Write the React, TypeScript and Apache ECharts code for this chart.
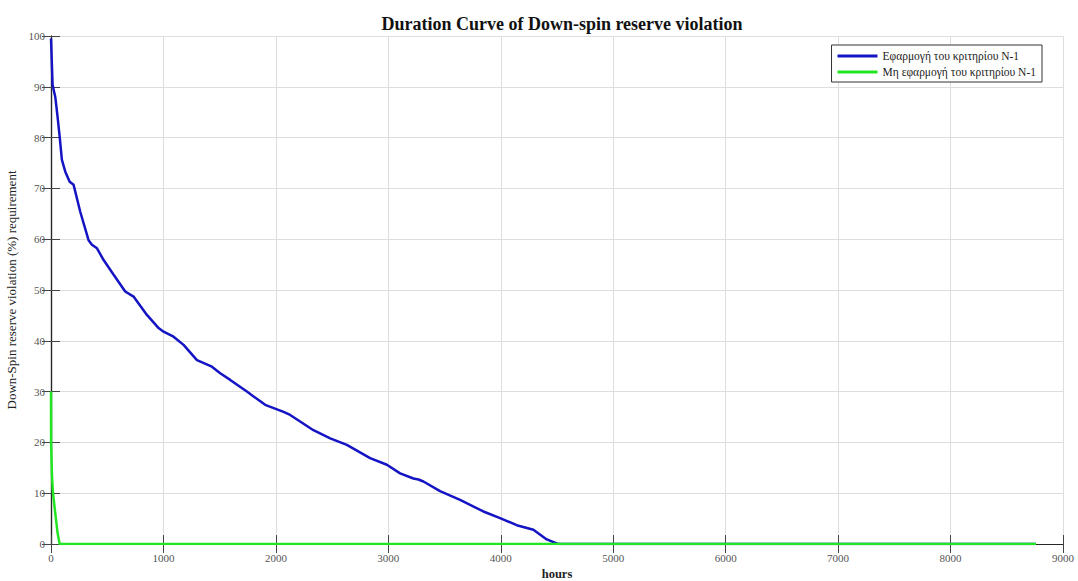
import React, { useEffect, useRef } from "react";
import * as echarts from "echarts";

// Duration curve with the N-1 criterion applied (hours sorted by violation size)
const hoursN1 = [0, 14, 38, 59, 77, 97, 127, 166, 201, 260, 334, 364, 409, 468, 557, 660, 734, 853, 957, 1001, 1090, 1179, 1298, 1431, 1505, 1594, 1742, 1905, 2068, 2127, 2334, 2483, 2631, 2838, 2987, 3105, 3223, 3268, 3312, 3460, 3638, 3845, 3994, 4142, 4290, 4409, 4498, 4520, 8760];
const valuesN1 = [99.5, 90.4, 88, 84, 80.2, 75.6, 73.3, 71.3, 70.7, 65.4, 59.8, 58.9, 58.2, 55.9, 53, 49.7, 48.7, 45.1, 42.5, 41.8, 40.8, 39.2, 36.2, 34.9, 33.6, 32.3, 30, 27.4, 26, 25.4, 22.4, 20.8, 19.5, 16.9, 15.6, 13.9, 12.9, 12.7, 12.3, 10.4, 8.7, 6.4, 5.1, 3.7, 2.8, 0.9, 0.1, 0, 0];

// Duration curve without the N-1 criterion
const hoursNoN1 = [0, 1, 9, 18, 38, 59, 77, 8760];
const valuesNoN1 = [30, 19.8, 13.2, 10, 6, 2.1, 0, 0];

const seriesNames = ["Εφαρμογή του κριτηρίου N-1", "Μη εφαρμογή του κριτηρίου N-1"];
const titleText = "Duration Curve of Down-spin reserve violation";
const xName = "hours";
const yName = "Down-Spin reserve violation (%) requirement";

const serif = "'Liberation Serif', 'DejaVu Serif', serif";

export default function App() {
  const ref = useRef<HTMLDivElement>(null);

  useEffect(() => {
    if (!ref.current) return;
    const chart = echarts.init(ref.current, null, { renderer: "svg" });

    const pairs = (xs: number[], ys: number[]) => xs.map((x, i) => [x, ys[i]]);
    const plain = (v: number) => String(v);

    const tickStyle = { inside: true, length: 9, lineStyle: { color: "#444", width: 1 } };
    const lineStyle = { show: true, lineStyle: { color: "#262626", width: 1.2 } };

    chart.setOption({
      animation: false,
      backgroundColor: "#ffffff",
      textStyle: { fontFamily: serif },
      title: {
        text: titleText,
        left: 557,
        textAlign: "center",
        top: 10,
        textStyle: { fontFamily: serif, fontSize: 18, fontWeight: "bold", color: "#111" },
      },
      legend: {
        orient: "vertical",
        right: 36,
        top: 45,
        padding: [5, 6, 4, 6],
        itemGap: 4,
        itemWidth: 40,
        itemHeight: 3,
        icon: "rect",
        backgroundColor: "#ffffff",
        borderColor: "#333",
        borderWidth: 1,
        textStyle: { fontFamily: serif, fontSize: 11.5, color: "#222" },
        data: seriesNames,
      },
      grid: {
        left: 51,
        right: 15,
        top: 36,
        bottom: 37,
        containLabel: false,
        outerBoundsMode: "none",
      },
      xAxis: [
        {
          type: "value",
          min: 0,
          max: 9000,
          interval: 1000,
          name: xName,
          nameLocation: "middle",
          nameGap: 22,
          nameTextStyle: { fontFamily: serif, fontSize: 12.5, fontWeight: "bold", color: "#222" },
          axisLine: lineStyle,
          axisTick: tickStyle,
          axisLabel: { fontFamily: serif, fontSize: 11, color: "#555", margin: 8, formatter: plain },
          splitLine: { show: true, lineStyle: { color: "#dedede", width: 1 } },
        },
        {
          type: "value",
          position: "top",
          min: 0,
          max: 9000,
          interval: 1000,
          axisLine: lineStyle,
          axisTick: tickStyle,
          axisLabel: { show: false },
          splitLine: { show: false },
        },
      ],
      yAxis: [
        {
          type: "value",
          min: 0,
          max: 100,
          interval: 10,
          name: yName,
          nameLocation: "middle",
          nameGap: 23,
          nameTextStyle: { fontFamily: serif, fontSize: 13, color: "#222" },
          axisLine: lineStyle,
          axisTick: tickStyle,
          axisLabel: { fontFamily: serif, fontSize: 11, color: "#555", margin: 6, formatter: plain },
          splitLine: { show: true, lineStyle: { color: "#dedede", width: 1 } },
        },
        {
          type: "value",
          position: "right",
          min: 0,
          max: 100,
          interval: 10,
          axisLine: lineStyle,
          axisTick: tickStyle,
          axisLabel: { show: false },
          splitLine: { show: false },
        },
      ],
      series: [
        {
          name: seriesNames[0],
          type: "line",
          data: pairs(hoursN1, valuesN1),
          showSymbol: false,
          color: "#1414c4",
          lineStyle: { color: "#1414c4", width: 2.5 },
        },
        {
          name: seriesNames[1],
          type: "line",
          data: pairs(hoursNoN1, valuesNoN1),
          showSymbol: false,
          color: "#22e622",
          lineStyle: { color: "#22e622", width: 2.5 },
        },
      ],
    });

    return () => chart.dispose();
  }, []);

  return <div ref={ref} style={{ width: 1078, height: 581, position: "absolute", left: 0, top: 0 }} />;
}
